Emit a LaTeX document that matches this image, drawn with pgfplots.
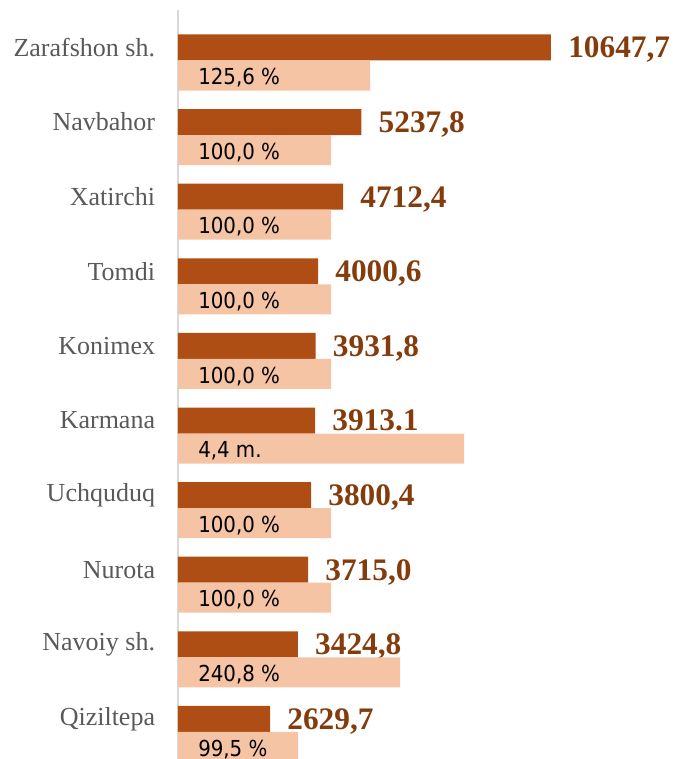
\documentclass[border=0pt]{standalone}
\usepackage{fontspec}
\setmainfont{Liberation Serif}
\newfontfamily\pctfont{DejaVu Sans Condensed}
\usepackage{pgfplots}
\pgfplotsset{compat=1.18}
\usepackage{pgfplotstable}
\definecolor{barbrown}{HTML}{AE4E14}
\definecolor{barpeach}{HTML}{F5C4A5}
\definecolor{valbrown}{HTML}{843C0C}
\definecolor{catgray}{HTML}{595959}
\definecolor{axisgray}{HTML}{D9D9D9}

% values (dark bars), labels as printed
\pgfplotstableread{
y val label
0 10647.7 {10647,7}
1 5237.8 {5237,8}
2 4712.4 {4712,4}
3 4000.6 {4000,6}
4 3931.8 {3931,8}
5 3913.1 {3913.1}
6 3800.4 {3800,4}
7 3715.0 {3715,0}
8 3424.8 {3424,8}
9 2629.7 {2629,7}
}\darkdata

% growth (light bars): drawn length and printed label
\pgfplotstableread{
y len label
0 194 {125,6 \%}
1 155 {100,0 \%}
2 155 {100,0 \%}
3 155 {100,0 \%}
4 155 {100,0 \%}
5 288 {4,4 m.}
6 155 {100,0 \%}
7 155 {100,0 \%}
8 224 {240,8 \%}
9 122 {99,5 \%}
}\lightdata

\begin{document}
\begin{tikzpicture}
\begin{axis}[
    at={(0pt,0pt)}, anchor=south west,
    width=371.25pt, height=569.25pt, scale only axis,
    xmin=0, xmax=14131,
    ymin=-0.6367, ymax=9.5375, y dir=reverse,
    axis x line=none, axis y line*=left,
    y axis line style={draw=none},
    ytick={0,...,9},
    yticklabels={Zarafshon sh., Navbahor, Xatirchi, Tomdi, Konimex,
                 Karmana, Uchquduq, Nurota, Navoiy sh., Qiziltepa},
    major tick length=0pt,
    yticklabel style={font=\fontsize{19.5}{22}\selectfont, text=catgray,
                      inner sep=0pt, xshift=-17pt},
    clip=false,
]
\draw[axisgray, line width=1.5pt] (axis cs:0,-0.503) -- (axis cs:0,9.5375);
\addplot[xbar, bar width=19.5pt, fill=barbrown, draw=none,
    nodes near coords, point meta=explicit symbolic,
    nodes near coords style={anchor=west, inner sep=0pt, xshift=12.75pt,
        text depth=0pt, text=valbrown,
        font=\fontsize{23.5}{26}\selectfont\bfseries}]
    table[x=val, y=y, meta=label] {\darkdata};
\end{axis}

\begin{axis}[
    at={(0pt,0pt)}, anchor=south west,
    width=371.25pt, height=569.25pt, scale only axis,
    xmin=2, xmax=497,
    ymin=-1.0121, ymax=9.1622, y dir=reverse,
    hide axis, clip=false,
]
\addplot[xbar, bar width=22.5pt, fill=barpeach, draw=none]
    table[x=len, y=y] {\lightdata};
\addplot[draw=none, mark=none, nodes near coords, point meta=explicit symbolic,
    nodes near coords style={anchor=west, inner sep=0pt, xshift=16.5pt,
        yshift=-0.75pt, text depth=0pt, text=black,
        font=\pctfont\fontsize{16.5}{18}\selectfont}]
    table[x expr=0, y=y, meta=label] {\lightdata};
\end{axis}

\pgfresetboundingbox
\path[use as bounding box] (-133.5pt,0pt) rectangle (371.25pt,569.25pt);
\end{tikzpicture}
\end{document}
